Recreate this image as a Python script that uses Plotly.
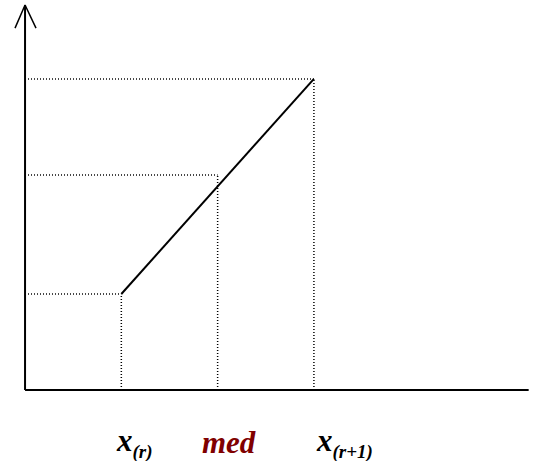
import plotly.graph_objects as go

# data (chart units)
x_labels = ["x(r)", "med", "x(r+1)"]
x_vals = [1.0, 2.0, 3.0]          # x_(r), med, x_(r+1)
y_vals = [1.0, 2.24, 3.24]        # F at x_(r), level at med, F at x_(r+1)
line_x = [1.0, 3.0]
line_y = [1.0, 3.24]
x_axis_end = 5.23
y_axis_end = 4.01

X_RANGE = [-0.26, 5.327]
Y_RANGE = [-0.74, 4.0625]

fig = go.Figure()

dot = dict(color="black", width=1.5, dash="1px,2px")
# dotted guides
for xv, yv in zip(x_vals, y_vals):
    fig.add_trace(go.Scatter(x=[0, xv], y=[yv, yv], mode="lines", line=dot, hoverinfo="skip"))
    fig.add_trace(go.Scatter(x=[xv, xv], y=[0, yv], mode="lines", line=dot, hoverinfo="skip"))

# main line
fig.add_trace(go.Scatter(x=line_x, y=line_y, mode="lines",
                         line=dict(color="black", width=2), hoverinfo="skip"))

# axes
fig.add_trace(go.Scatter(x=[0, x_axis_end], y=[0, 0], mode="lines",
                         line=dict(color="black", width=2), hoverinfo="skip"))
fig.add_trace(go.Scatter(x=[0, 0], y=[0, y_axis_end], mode="lines",
                         line=dict(color="black", width=2), hoverinfo="skip"))
# arrow head
fig.add_trace(go.Scatter(x=[-0.104, 0, 0.114], y=[3.77, y_axis_end, 3.77], mode="lines",
                         line=dict(color="black", width=1.5), hoverinfo="skip"))

font = "Liberation Serif"
texts = [
    "<b><i>x<sub><span style='font-size:19px'>(r)</span></sub></i></b>",
    "<b><i>med</i></b>",
    "<b><i>x<sub><span style='font-size:19px'>(r+1)</span></sub></i></b>",
]
colors = ["black", "#800000", "black"]
shifts = [13, 11, 31]
for xv, t, c, s in zip(x_vals, texts, colors, shifts):
    fig.add_annotation(x=xv, y=-0.55, xref="x", yref="y", text=t, showarrow=False,
                       xanchor="center", yanchor="middle", xshift=s,
                       font=dict(family=font, size=31, color=c))

fig.update_layout(
    width=538, height=461,
    margin=dict(l=0, r=0, t=0, b=0),
    paper_bgcolor="white", plot_bgcolor="white",
    showlegend=False,
    xaxis=dict(range=X_RANGE, visible=False, fixedrange=True),
    yaxis=dict(range=Y_RANGE, visible=False, fixedrange=True),
)

fig.write_html("out.html", config={"displayModeBar": False},
               post_script="document.body.style.margin='0';document.body.style.overflow='hidden';")
